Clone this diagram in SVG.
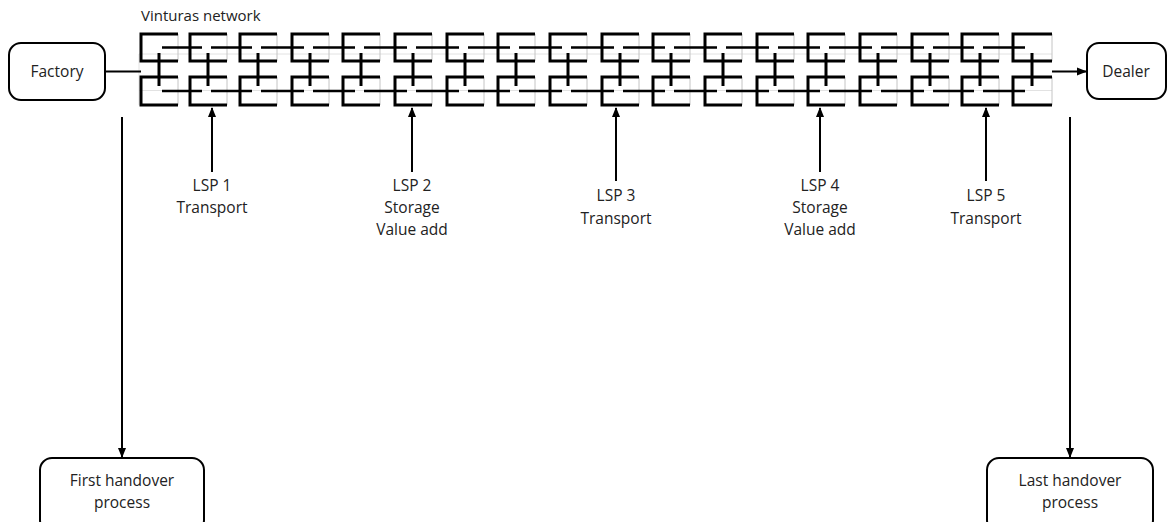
<svg xmlns="http://www.w3.org/2000/svg" width="1176" height="522" viewBox="0 0 1176 522">
<defs>
<marker id="ah" markerWidth="10" markerHeight="10" refX="9" refY="5" orient="auto" markerUnits="userSpaceOnUse">
<path d="M0,1 L10,5 L0,9 Z" fill="#000"/>
</marker>
<style>
.box{fill:#fff;stroke:#000;stroke-width:2}
.t{font-family:"Open Sans","Liberation Sans",sans-serif;font-size:15.5px;fill:#222;text-anchor:middle}
.tl{font-family:"Open Sans","Liberation Sans",sans-serif;font-size:15px;fill:#222}
.con{stroke:#000;stroke-width:2;fill:none}
.cell{stroke:#000;stroke-width:3;fill:none}
.mid{stroke:#000;stroke-width:2.4;fill:none}
.grey{stroke:#c4c4c4;stroke-width:1;fill:none}
.grey2{stroke:#e2e2e2;stroke-width:1;fill:none}
</style>
</defs>
<rect width="1176" height="522" fill="#fff"/>

<g id="network">
<text class="tl" x="141" y="21">Vinturas network</text>
<g id="grid-grey">
<path class="grey2" d="M139,54 H1052 M139,90.5 H1052 M139,54 V105"/>
</g>
<g id="grid-cells">
<path class="grey" d="M178,34V61M178,77V105 M227,34V61M227,77V105 M277,34V61M277,77V105 M329,34V61M329,77V105 M380,34V61M380,77V105 M432,34V61M432,77V105 M484,34V61M484,77V105 M535,34V61M535,77V105 M587,34V61M587,77V105 M639,34V61M639,77V105 M690,34V61M690,77V105 M742,34V61M742,77V105 M794,34V61M794,77V105 M845,34V61M845,77V105 M897,34V61M897,77V105 M949,34V61M949,77V105 M999,34V61M999,77V105 M1052,34V61M1052,77V105"/>
<path class="cell" d="
M178,34H141V61H178 M178,77H141V105H178 M159,53V86
M227,34H190V61H227 M227,77H190V105H227 M208,53V86
M277,34H240V61H277 M277,77H240V105H277 M258,53V86
M329,34H292V61H329 M329,77H292V105H329 M310,53V86
M380,34H343V61H380 M380,77H343V105H380 M361,53V86
M432,34H395V61H432 M432,77H395V105H432 M413,53V86
M484,34H447V61H484 M484,77H447V105H484 M465,53V86
M535,34H498V61H535 M535,77H498V105H535 M516,53V86
M587,34H550V61H587 M587,77H550V105H587 M568,53V86
M639,34H602V61H639 M639,77H602V105H639 M620,53V86
M690,34H653V61H690 M690,77H653V105H690 M671,53V86
M742,34H705V61H742 M742,77H705V105H742 M723,53V86
M794,34H757V61H794 M794,77H757V105H794 M775,53V86
M845,34H808V61H845 M845,77H808V105H845 M826,53V86
M897,34H860V61H897 M897,77H860V105H897 M878,53V86
M949,34H912V61H949 M949,77H912V105H949 M930,53V86
M999,34H962V61H999 M999,77H962V105H999 M980,53V86
M1052,34H1013V61H1052 M1052,77H1013V105H1052 M1032,53V86"/>
<path class="mid" d="
M162,47.5H202 M211,47.5H252 M261,47.5H304 M313,47.5H355 M364,47.5H407 M416,47.5H459 M468,47.5H510 M519,47.5H562 M571,47.5H614 M623,47.5H665 M674,47.5H717 M726,47.5H769 M778,47.5H820 M829,47.5H872 M881,47.5H924 M933,47.5H974 M983,47.5H1025
M162,91H202 M211,91H252 M261,91H304 M313,91H355 M364,91H407 M416,91H459 M468,91H510 M519,91H562 M571,91H614 M623,91H665 M674,91H717 M726,91H769 M778,91H820 M829,91H872 M881,91H924 M933,91H974 M983,91H1025"/>
</g>
</g>

<g id="connectors">
<path class="con" d="M105,71.5H141"/>
<path class="con" d="M1052,71.5H1086" marker-end="url(#ah)"/>
<path class="con" d="M122,117V457" marker-end="url(#ah)"/>
<path class="con" d="M1070,117V457" marker-end="url(#ah)"/>
<path class="con" d="M212,172V108" marker-end="url(#ah)"/>
<path class="con" d="M412,172V108" marker-end="url(#ah)"/>
<path class="con" d="M616,181V108" marker-end="url(#ah)"/>
<path class="con" d="M820,172V108" marker-end="url(#ah)"/>
<path class="con" d="M986,181V108" marker-end="url(#ah)"/>
</g>

<g id="factory">
<rect class="box" x="9" y="43" width="96" height="57" rx="12"/>
<text class="t" x="57" y="77">Factory</text>
</g>
<g id="dealer">
<rect class="box" x="1087" y="43" width="79" height="56" rx="12"/>
<text class="t" x="1126" y="77">Dealer</text>
</g>
<g id="first-handover">
<rect class="box" x="40" y="458" width="164" height="74" rx="12"/>
<text class="t" x="122" y="486">First handover</text>
<text class="t" x="122" y="508">process</text>
</g>
<g id="last-handover">
<rect class="box" x="987" y="458" width="166" height="74" rx="12"/>
<text class="t" x="1070" y="486">Last handover</text>
<text class="t" x="1070" y="508">process</text>
</g>
<g id="lsp1">
<text class="t" x="212" y="191">LSP 1</text>
<text class="t" x="212" y="213">Transport</text>
</g>
<g id="lsp2">
<text class="t" x="412" y="191">LSP 2</text>
<text class="t" x="412" y="213">Storage</text>
<text class="t" x="412" y="235">Value add</text>
</g>
<g id="lsp3">
<text class="t" x="616" y="201">LSP 3</text>
<text class="t" x="616" y="224">Transport</text>
</g>
<g id="lsp4">
<text class="t" x="820" y="191">LSP 4</text>
<text class="t" x="820" y="213">Storage</text>
<text class="t" x="820" y="235">Value add</text>
</g>
<g id="lsp5">
<text class="t" x="986" y="201">LSP 5</text>
<text class="t" x="986" y="224">Transport</text>
</g>
</svg>
